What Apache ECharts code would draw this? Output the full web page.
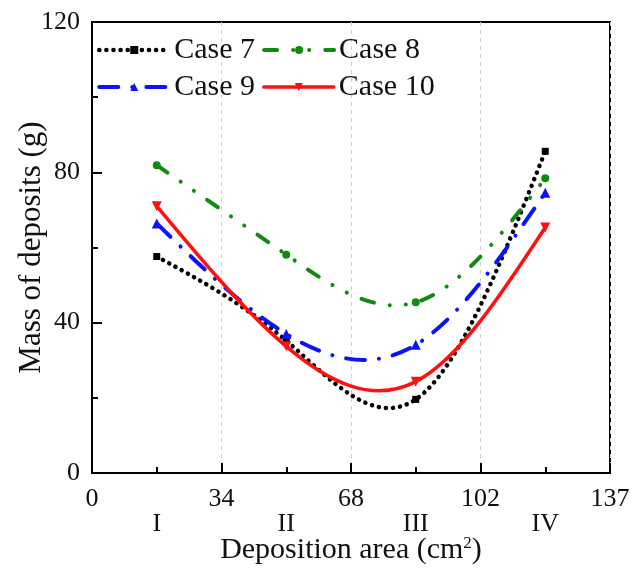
<!DOCTYPE html>
<html>
<head>
<meta charset="utf-8">
<script src="https://cdn.jsdelivr.net/npm/echarts@6/dist/echarts.min.js"></script>
<style>
  html, body { margin: 0; padding: 0; background: #fff; }
  #chart { width: 635px; height: 571px; }
</style>
</head>
<body>
<div id="chart"></div>
<script>
// Deposition areas (x position of each zone) and their zone names
const areaPositions = [17, 51, 85, 119];
const areaNames = ['I', 'II', 'III', 'IV'];

// Axis tick labels
const xTickLabels = ['0', '34', '68', '102', '137'];
const yTickLabels = ['0', '40', '80', '120'];

// Mass of deposits (g) per zone
const seriesNames = ['Case 7', 'Case 8', 'Case 9', 'Case 10'];
const case7 = [57.6, 35.2, 19.6, 85.6];
const case8 = [81.9, 58.1, 45.4, 78.4];
const case9 = [66.4, 37.0, 34.1, 74.6];
const case10 = [71.0, 33.7, 24.3, 65.3];

const FONT = '"Liberation Serif", "Times New Roman", serif';

// Line looks: colour, dash pattern, marker, marker size, width
const styles = [
  { color: '#000000', dash: [0.1, 7], symbol: 'rect', size: 7, width: 4.5 },
  { color: '#118a11', dash: [13, 16, 0.1, 16, 0.1, 16], symbol: 'circle', size: 8, width: 4 },
  { color: '#0a12ff', dash: [19, 14, 0.1, 14], symbol: 'triangle', size: 10, width: 4 },
  { color: '#ff1010', dash: 'solid', symbol: 'path://M0,0L10,0L5,9Z', size: 10, width: 3.5 }
];
const allValues = [case7, case8, case9, case10];

// Natural cubic spline through the points, returned as cubic Bezier
// segments in data space: [x0,y0, c1x,c1y, c2x,c2y, x1,y1]
function splineBeziers(xs, ys) {
  const n = xs.length;
  const h = [];
  for (let i = 0; i < n - 1; i++) h.push(xs[i + 1] - xs[i]);
  const M = new Array(n).fill(0);
  if (n > 2) {
    const a = [], b = [], c = [], d = [];
    for (let i = 1; i < n - 1; i++) {
      a.push(h[i - 1]);
      b.push(2 * (h[i - 1] + h[i]));
      c.push(h[i]);
      d.push(6 * ((ys[i + 1] - ys[i]) / h[i] - (ys[i] - ys[i - 1]) / h[i - 1]));
    }
    const m = b.length;
    for (let i = 1; i < m; i++) {
      const w = a[i] / b[i - 1];
      b[i] -= w * c[i - 1];
      d[i] -= w * d[i - 1];
    }
    const sol = new Array(m);
    sol[m - 1] = d[m - 1] / b[m - 1];
    for (let i = m - 2; i >= 0; i--) sol[i] = (d[i] - c[i] * sol[i + 1]) / b[i];
    for (let i = 0; i < m; i++) M[i + 1] = sol[i];
  }
  const segs = [];
  for (let i = 0; i < n - 1; i++) {
    const slope = (ys[i + 1] - ys[i]) / h[i];
    const sL = slope - h[i] * (2 * M[i] + M[i + 1]) / 6;
    const sR = slope + h[i] * (M[i] + 2 * M[i + 1]) / 6;
    segs.push([
      xs[i], ys[i],
      xs[i] + h[i] / 3, ys[i] + sL * h[i] / 3,
      xs[i + 1] - h[i] / 3, ys[i + 1] - sR * h[i] / 3,
      xs[i + 1], ys[i + 1]
    ]);
  }
  return segs;
}

function toPoints(values) {
  return areaPositions.map((x, i) => [x, values[i]]);
}

// Smooth curve drawn through the measured points
function curveSeries(values, st) {
  return {
    type: 'custom',
    silent: true,
    xAxisIndex: 0,
    yAxisIndex: 0,
    data: toPoints(values),
    z: 2,
    renderItem: function (params, api) {
      if (params.dataIndex !== 0) return null;
      const segs = splineBeziers(areaPositions, values);
      let d = '';
      segs.forEach((s, k) => {
        const p0 = api.coord([s[0], s[1]]);
        const p1 = api.coord([s[2], s[3]]);
        const p2 = api.coord([s[4], s[5]]);
        const p3 = api.coord([s[6], s[7]]);
        if (k === 0) d += 'M' + p0[0] + ' ' + p0[1];
        d += 'C' + p1[0] + ' ' + p1[1] + ' ' + p2[0] + ' ' + p2[1] + ' ' + p3[0] + ' ' + p3[1];
      });
      return {
        type: 'path',
        shape: { pathData: d },
        style: {
          fill: 'none',
          stroke: st.color,
          lineWidth: st.width,
          lineDash: st.dash === 'solid' ? null : st.dash,
          lineCap: 'round',
          lineJoin: 'round'
        }
      };
    }
  };
}

// Markers at the measured points (the curve itself is drawn separately)
function markerSeries(name, values, st) {
  return {
    name: name,
    type: 'line',
    xAxisIndex: 0,
    yAxisIndex: 0,
    data: toPoints(values),
    symbol: st.symbol,
    symbolSize: st.size,
    showSymbol: true,
    itemStyle: { color: st.color },
    lineStyle: { color: st.color, width: st.width, type: st.dash, cap: 'round', opacity: 0 },
    emphasis: { disabled: true },
    z: 4
  };
}

const series = [];
seriesNames.forEach((name, i) => {
  series.push(curveSeries(allValues[i], styles[i]));
  series.push(markerSeries(name, allValues[i], styles[i]));
});

const chart = echarts.init(document.getElementById('chart'), null, { renderer: 'canvas' });

chart.setOption({
  animation: false,
  backgroundColor: '#fff',
  textStyle: { fontFamily: FONT },
  grid: {
    left: 92, right: 25, top: 22, bottom: 98,
    outerBoundsMode: 'none', containLabel: false,
    show: true, borderColor: '#000', borderWidth: 2, backgroundColor: 'transparent'
  },
  legend: {
    left: 92, top: 30, width: 370,
    itemWidth: 70, itemHeight: 10, itemGap: 7,
    textStyle: { fontFamily: FONT, fontSize: 30, color: '#111', lineHeight: 23 },
    data: seriesNames.map((name, i) => ({
      name: name,
      lineStyle: {
        color: styles[i].color, width: styles[i].width, type: styles[i].dash,
        cap: 'round', opacity: 1
      }
    }))
  },
  xAxis: [
    {
      type: 'value', min: 0, max: 136, interval: 34,
      name: 'Deposition area (cm{sup|2})',
      nameLocation: 'middle', nameGap: 62, nameMoveOverlap: false,
      nameTextStyle: {
        fontFamily: FONT, fontSize: 30, color: '#111',
        rich: { sup: { fontFamily: FONT, fontSize: 17, verticalAlign: 'top', padding: [0, 0, 14, 0] } }
      },
      axisLine: { show: true, lineStyle: { color: '#000', width: 2 } },
      axisTick: { show: true, inside: true, length: 10, lineStyle: { color: '#000', width: 2 } },
      minorTick: { show: true, splitNumber: 2, length: 6, lineStyle: { color: '#000', width: 2 } },
      splitLine: { show: true, lineStyle: { color: '#cfcfcf', width: 1, type: [4, 4] } },
      axisLabel: {
        margin: 13, fontFamily: FONT, fontSize: 26, color: '#111',
        formatter: v => xTickLabels[Math.round(v / 34)]
      }
    },
    {
      type: 'value', min: 0, max: 136, interval: 17, position: 'bottom',
      axisLine: { show: false }, axisTick: { show: false }, splitLine: { show: false },
      axisLabel: {
        margin: 38, fontFamily: FONT, fontSize: 26, color: '#111',
        formatter: v => {
          const i = areaPositions.indexOf(v);
          return i >= 0 ? areaNames[i] : '';
        }
      }
    }
  ],
  yAxis: {
    type: 'value', min: 0, max: 120, interval: 40,
    name: 'Mass of deposits (g)',
    nameLocation: 'middle', nameGap: 45, nameMoveOverlap: false,
    nameTextStyle: { fontFamily: FONT, fontSize: 31, color: '#111' },
    axisLine: { show: true, lineStyle: { color: '#000', width: 2 } },
    axisTick: { show: true, inside: true, length: 10, lineStyle: { color: '#000', width: 2 } },
    minorTick: { show: true, splitNumber: 2, length: 6, lineStyle: { color: '#000', width: 2 } },
    splitLine: { show: false },
    axisLabel: {
      margin: 12, fontFamily: FONT, fontSize: 26, color: '#111',
      formatter: v => yTickLabels[Math.round(v / 40)]
    }
  },
  series: series
});
</script>
</body>
</html>
